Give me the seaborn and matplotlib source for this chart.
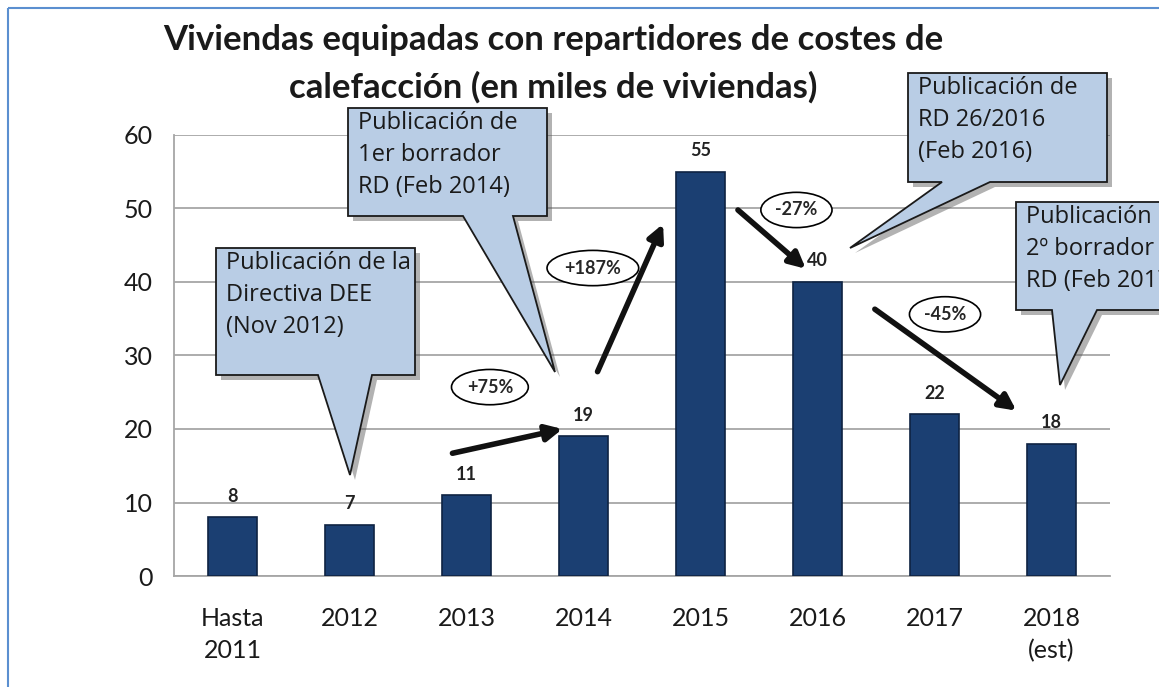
"""Viviendas equipadas con repartidores de costes de calefacción."""

import numpy as np
import pandas as pd
import matplotlib
matplotlib.use("Agg")
import matplotlib.pyplot as plt
from matplotlib.patches import Polygon, Rectangle
import seaborn as sns

CATEGORIAS = ["Hasta\n2011", "2012", "2013", "2014", "2015", "2016", "2017", "2018\n(est)"]
VIVIENDAS  = [8, 7, 11, 19, 55, 40, 22, 18]
ETIQUETAS  = ["8", "7", "11", "19", "55", "40", "22", "18"]
VARIACIONES = ["+75%", "+187%", "-27%", "-45%"]
Y_TICKS    = [0, 10, 20, 30, 40, 50, 60]

CALLOUTS = [
    "Publicación de la\nDirectiva DEE\n(Nov 2012)",
    "Publicación de\n1er borrador\nRD (Feb 2014)",
    "Publicación de\nRD 26/2016\n(Feb 2016)",
    "Publicación de\n2º borrador\nRD (Feb 2017)",
]

BAR_COLOR  = "#1b3f72"
BOX_COLOR  = "#b9cde5"
W, H = 1159, 687

sns.set_style("white")
plt.rcParams["font.family"] = ["Lato", "DejaVu Sans"]

df = pd.DataFrame({"cat": CATEGORIAS, "val": VIVIENDAS})

fig = plt.figure(figsize=(W / 100, H / 100), dpi=100)
ax = fig.add_axes([174 / W, 1 - 576 / H, (1110 - 174) / W, (576 - 135) / H])

sns.barplot(data=df, x="cat", y="val", color=BAR_COLOR, width=0.42,
            edgecolor="#0e2342", linewidth=1.2, saturation=1, ax=ax, zorder=3)
ax.bar_label(ax.containers[0], labels=ETIQUETAS, padding=9,
             fontsize=13, fontweight="bold", color="#222222")

ax.set_xlim(-0.5, len(CATEGORIAS) - 0.5)
ax.set_ylim(0, 60)
ax.set_yticks(Y_TICKS)
ax.set_xlabel("")
ax.set_ylabel("")
ax.yaxis.grid(True, color="#a6a6a6", linewidth=1.3, zorder=0)
ax.set_axisbelow(True)
for s in ["top", "right"]:
    ax.spines[s].set_visible(False)
for s in ["left", "bottom"]:
    ax.spines[s].set_color("#a6a6a6")
    ax.spines[s].set_linewidth(1.3)
ax.tick_params(axis="y", length=9, width=1.3, color="#a6a6a6",
               labelsize=18, labelcolor="#1a1a1a", pad=6)
ax.set_xticks(np.arange(-0.5, len(CATEGORIAS)), minor=True)
ax.tick_params(axis="x", which="major", length=0, labelsize=18,
               labelcolor="#1a1a1a", pad=22)
ax.tick_params(axis="x", which="minor", length=10, width=1.3, color="#a6a6a6")
for lbl in ax.get_xticklabels():
    lbl.set_linespacing(1.5)

# flechas de variación (coordenadas de datos)
flechas = [((1.88, 16.7), (2.82, 20.0)),
           ((3.12, 27.8), (3.68, 47.9)),
           ((4.32, 49.8), (4.90, 41.8)),
           ((5.49, 36.3), (6.70, 22.5))]
for (x0, y0), (x1, y1) in flechas:
    ax.annotate("", xy=(x1, y1), xytext=(x0, y0),
                arrowprops=dict(arrowstyle="-|>", color="#111111", lw=4,
                                mutation_scale=24, shrinkA=0, shrinkB=0),
                zorder=5)

pos_var = [(2.20, 25.7), (3.08, 41.9), (4.82, 49.8), (6.09, 35.6)]
for txt, (x, y) in zip(VARIACIONES, pos_var):
    ax.text(x, y, txt, ha="center", va="center", fontsize=13, fontweight="bold",
            bbox=dict(boxstyle="ellipse,pad=0.22", fc="white", ec="black", lw=1.2),
            zorder=6)

# capa superior en píxeles para marco, título y globos
ov = fig.add_axes([0, 0, 1, 1], zorder=10)
ov.set_xlim(0, W)
ov.set_ylim(H, 0)
ov.axis("off")
ov.patch.set_alpha(0)

ov.add_patch(Rectangle((8, 8), W + 20, H + 20, fill=False, ec="#5b8fd0", lw=1.5))

ov.text(553, 40, "Viviendas equipadas con repartidores de costes de",
        ha="center", va="center", fontsize=25, fontweight="bold", color="#1a1a1a")
ov.text(553, 87, "calefacción (en miles de viviendas)",
        ha="center", va="center", fontsize=25, fontweight="bold", color="#1a1a1a")

# (x0, y0, x1, y1, base_a, base_b, tip)
globos = [
    (216, 248, 415, 375, 318, 372, (350, 475)),
    (348, 108, 547, 216, 463, 513, (555, 372)),
    (908, 73, 1107, 182, 942, 990, (850, 248)),
    (1016, 202, 1200, 310, 1052, 1097, (1060, 385)),
]
for txt, (x0, y0, x1, y1, ba, bb, tip) in zip(CALLOUTS, globos):
    pts = [(x0, y0), (x1, y0), (x1, y1), (bb, y1), tip, (ba, y1), (x0, y1)]
    sombra = [(px + 5, py + 5) for px, py in pts]
    ov.add_patch(Polygon(sombra, closed=True, fc="#555555", ec="none", alpha=0.45))
    ov.add_patch(Polygon(pts, closed=True, fc=BOX_COLOR, ec="#1a1a1a", lw=1.3))
    ov.text(x0 + 10, y0 + 3, txt, ha="left", va="top", fontsize=17,
            family=["Open Sans", "DejaVu Sans"], color="#1a1a1a", linespacing=1.45)

fig.savefig("out.png", dpi=100)
